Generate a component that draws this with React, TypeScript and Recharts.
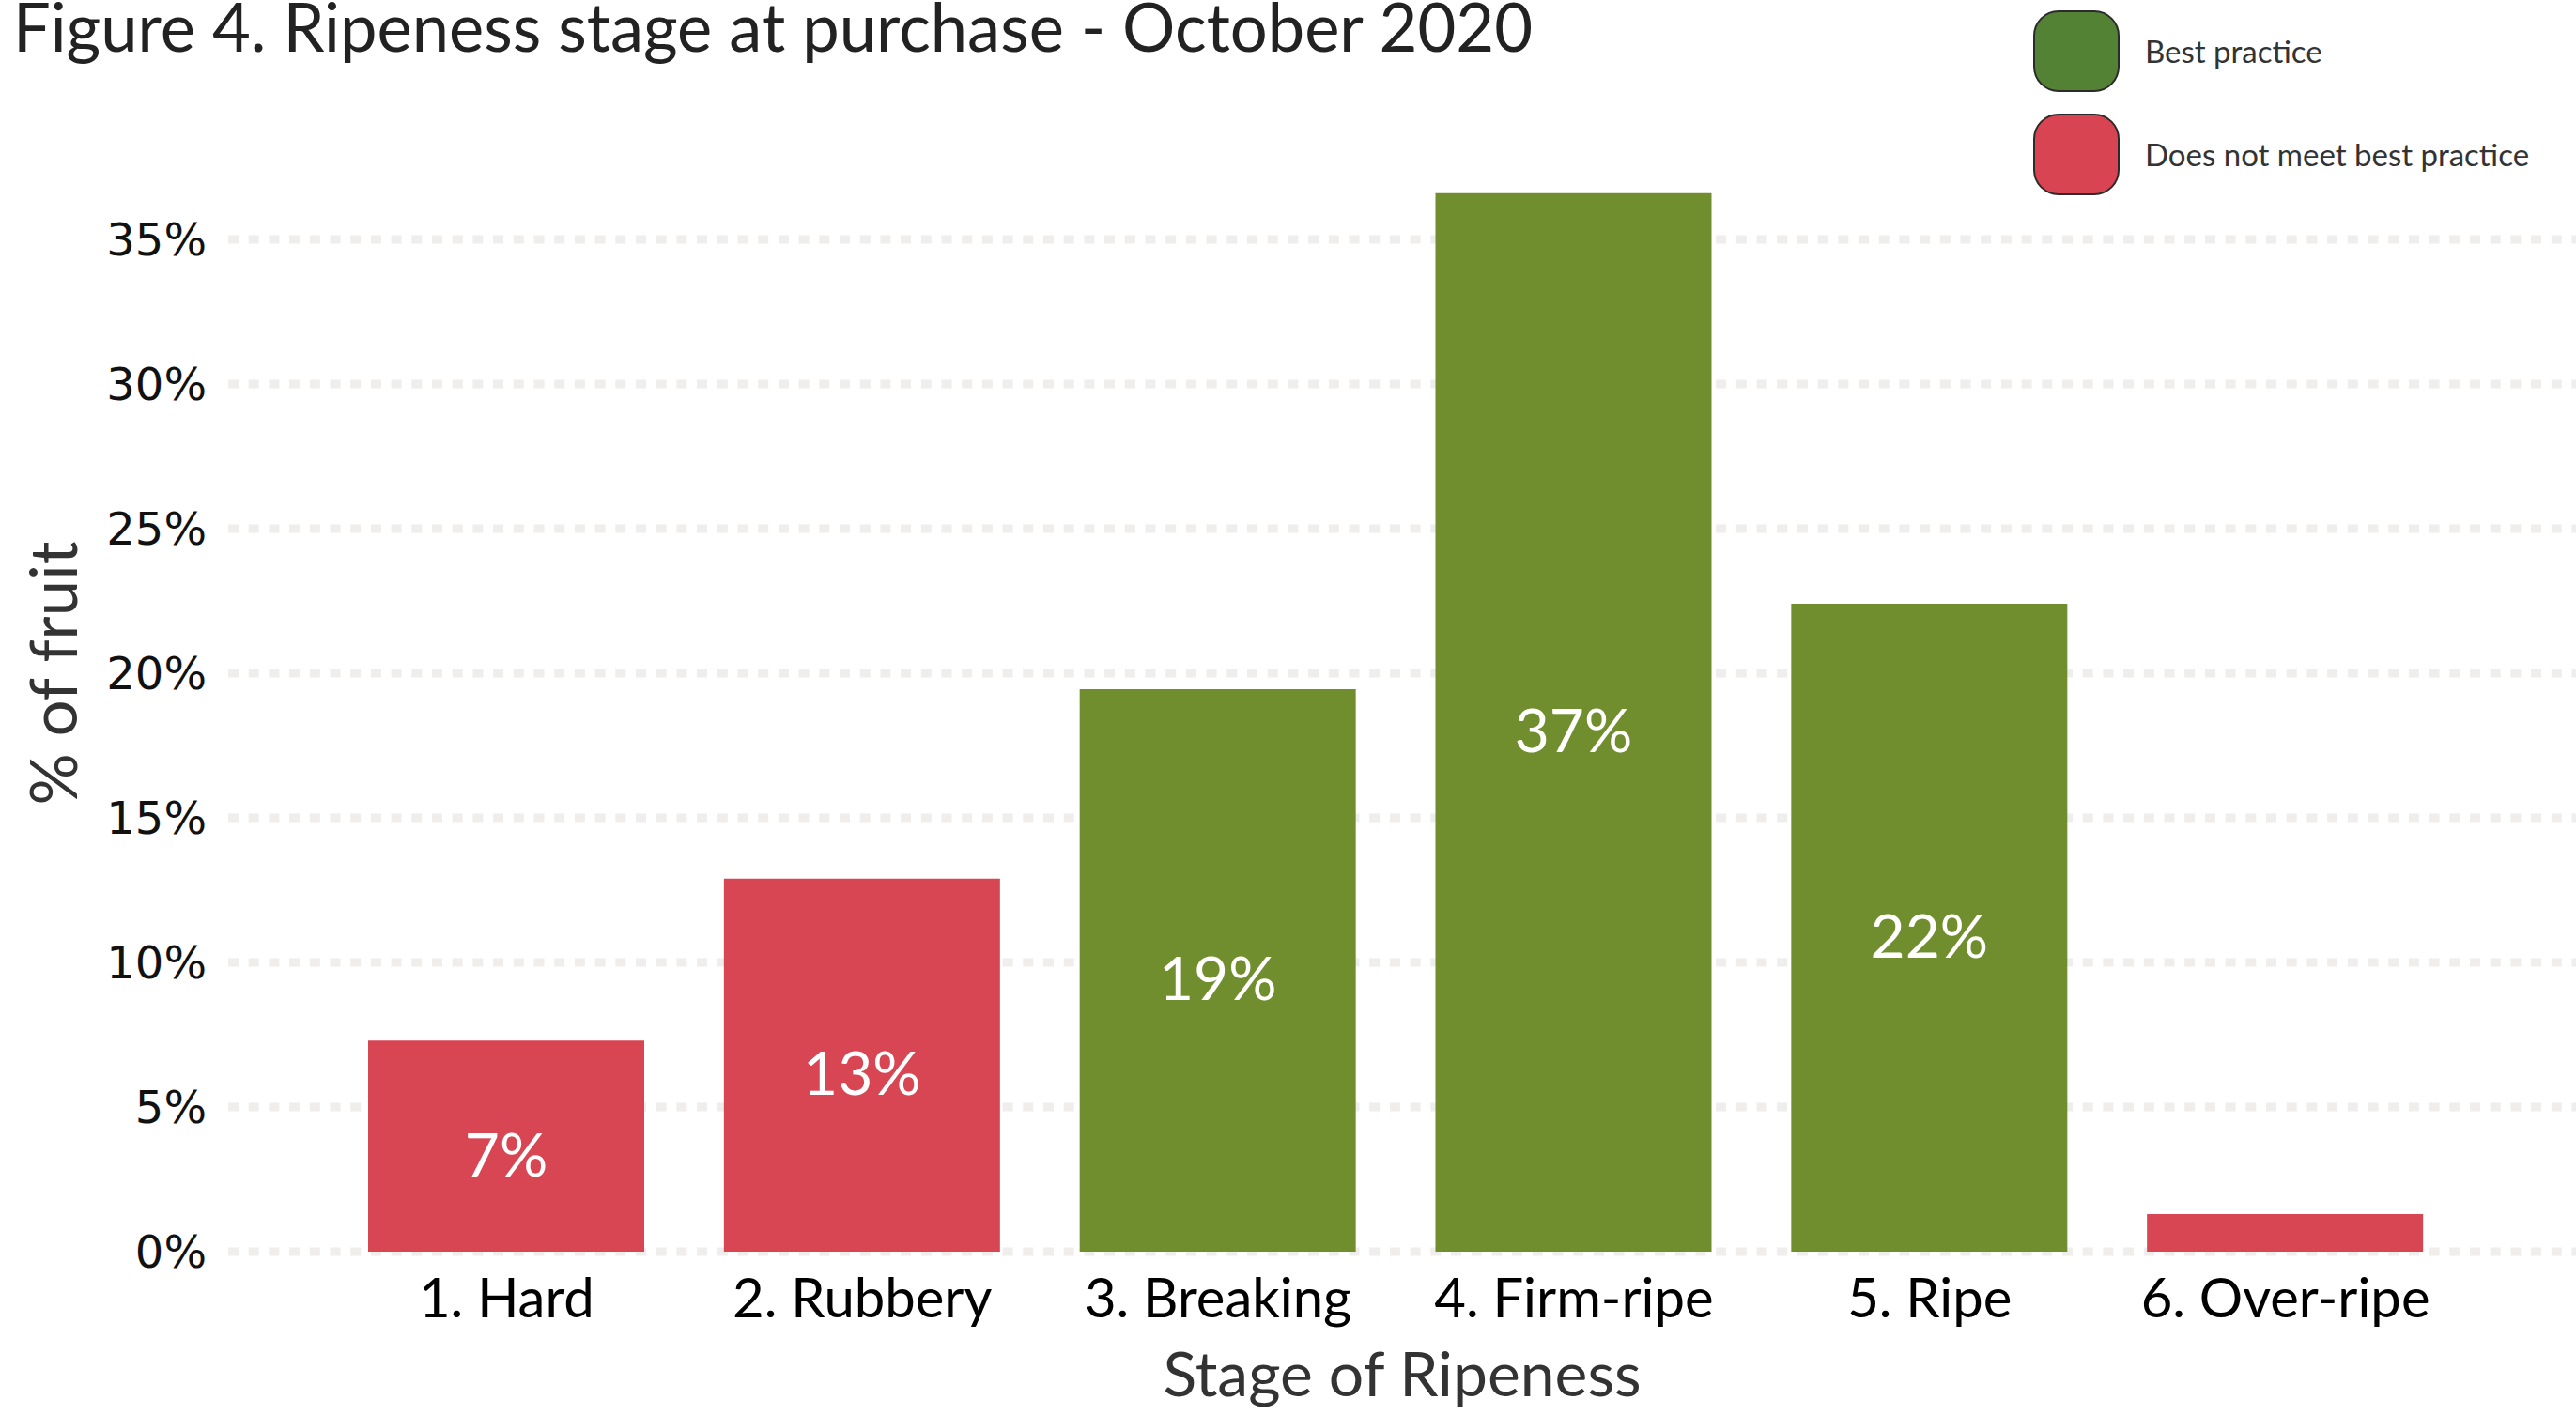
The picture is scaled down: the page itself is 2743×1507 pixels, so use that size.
import { BarChart, Bar, XAxis, YAxis, CartesianGrid, Cell, LabelList } from 'recharts';

const stages = ['1. Hard', '2. Rubbery', '3. Breaking', '4. Firm-ripe', '5. Ripe', '6. Over-ripe'];
const shares = [7.3, 12.9, 19.45, 36.6, 22.4, 1.3];
const meetsBestPractice = [false, false, true, true, true, false];
const yTicks = [0, 5, 10, 15, 20, 25, 30, 35];

const legendItems = [
  { label: 'Best practice', color: '#548235' },
  { label: 'Does not meet best practice', color: '#D94452' },
];

const GREEN = '#718E2E';
const RED = '#D84653';
const sans = 'Lato, "Open Sans", sans-serif';
const tickFont = '"DejaVu Sans", sans-serif';

const W = 2743;
const H = 1507;

function ValueLabel(props: any) {
  const { x, y, width, height, value } = props;
  // over-ripe is too thin for a label
  if (value < 5) return null;
  return (
    <text
      x={x + width / 2}
      y={y + height / 2}
      dy={32}
      textAnchor="middle"
      fill="#FFFFFF"
      fontSize={64}
      fontFamily={sans}
    >
      {Math.round(value)}%
    </text>
  );
}

export default function App() {
  const data = stages.map((stage, i) => ({ stage, share: shares[i], best: meetsBestPractice[i] }));

  return (
    <div style={{ position: 'absolute', left: 0, top: 0, width: W, height: H, background: '#FFFFFF' }}>
      <BarChart width={W} height={H} data={data} margin={{ top: 101, right: 0, bottom: 0, left: 0 }}>
        <CartesianGrid
          vertical={false}
          horizontalValues={yTicks}
          stroke="#EFEEEC"
          strokeWidth={9}
          strokeDasharray="11 10.7"
        />
        <XAxis
          dataKey="stage"
          axisLine={false}
          tickLine={false}
          tickSize={0}
          tickMargin={29}
          interval={0}
          height={174}
          padding={{ left: 107, right: 120 }}
          tick={{ fontSize: 58, fill: '#000000', fontFamily: sans }}
          label={{ value: 'Stage of Ripeness', position: 'insideBottom', offset: 20, fontSize: 66, fill: '#333333', fontFamily: sans }}
        />
        <YAxis
          width={243}
          domain={[0, 40]}
          ticks={yTicks}
          axisLine={false}
          tickLine={false}
          tickSize={0}
          tickMargin={23}
          tickFormatter={(v: number) => `${v}%`}
          tick={{ fontSize: 48, fill: '#111111', fontFamily: tickFont }}
          label={{ value: '% of fruit', angle: -90, position: 'center', dx: -64, fontSize: 69, fill: '#333333', fontFamily: sans }}
        />
        <Bar dataKey="share" barSize={294} isAnimationActive={false}>
          {data.map((d) => (
            <Cell key={d.stage} fill={d.best ? GREEN : RED} />
          ))}
          <LabelList dataKey="share" content={ValueLabel} />
        </Bar>
      </BarChart>

      {/* title + legend drawn on top */}
      <svg width={W} height={H} style={{ position: 'absolute', left: 0, top: 0, pointerEvents: 'none' }}>
        <text x={14} y={55} fontSize={72} fontFamily={sans} fill="#222222" textLength={1618} lengthAdjust="spacingAndGlyphs">
          Figure 4. Ripeness stage at purchase - October 2020
        </text>
        {legendItems.map((item, i) => (
          <g key={item.label}>
            <rect x={2166} y={12 + i * 110} width={90} height={85} rx={26} fill={item.color} stroke="#2B2B2B" strokeWidth={2} />
            <text x={2284} y={67 + i * 110} fontSize={33} fontFamily={sans} fill="#333333">
              {item.label}
            </text>
          </g>
        ))}
      </svg>
    </div>
  );
}
